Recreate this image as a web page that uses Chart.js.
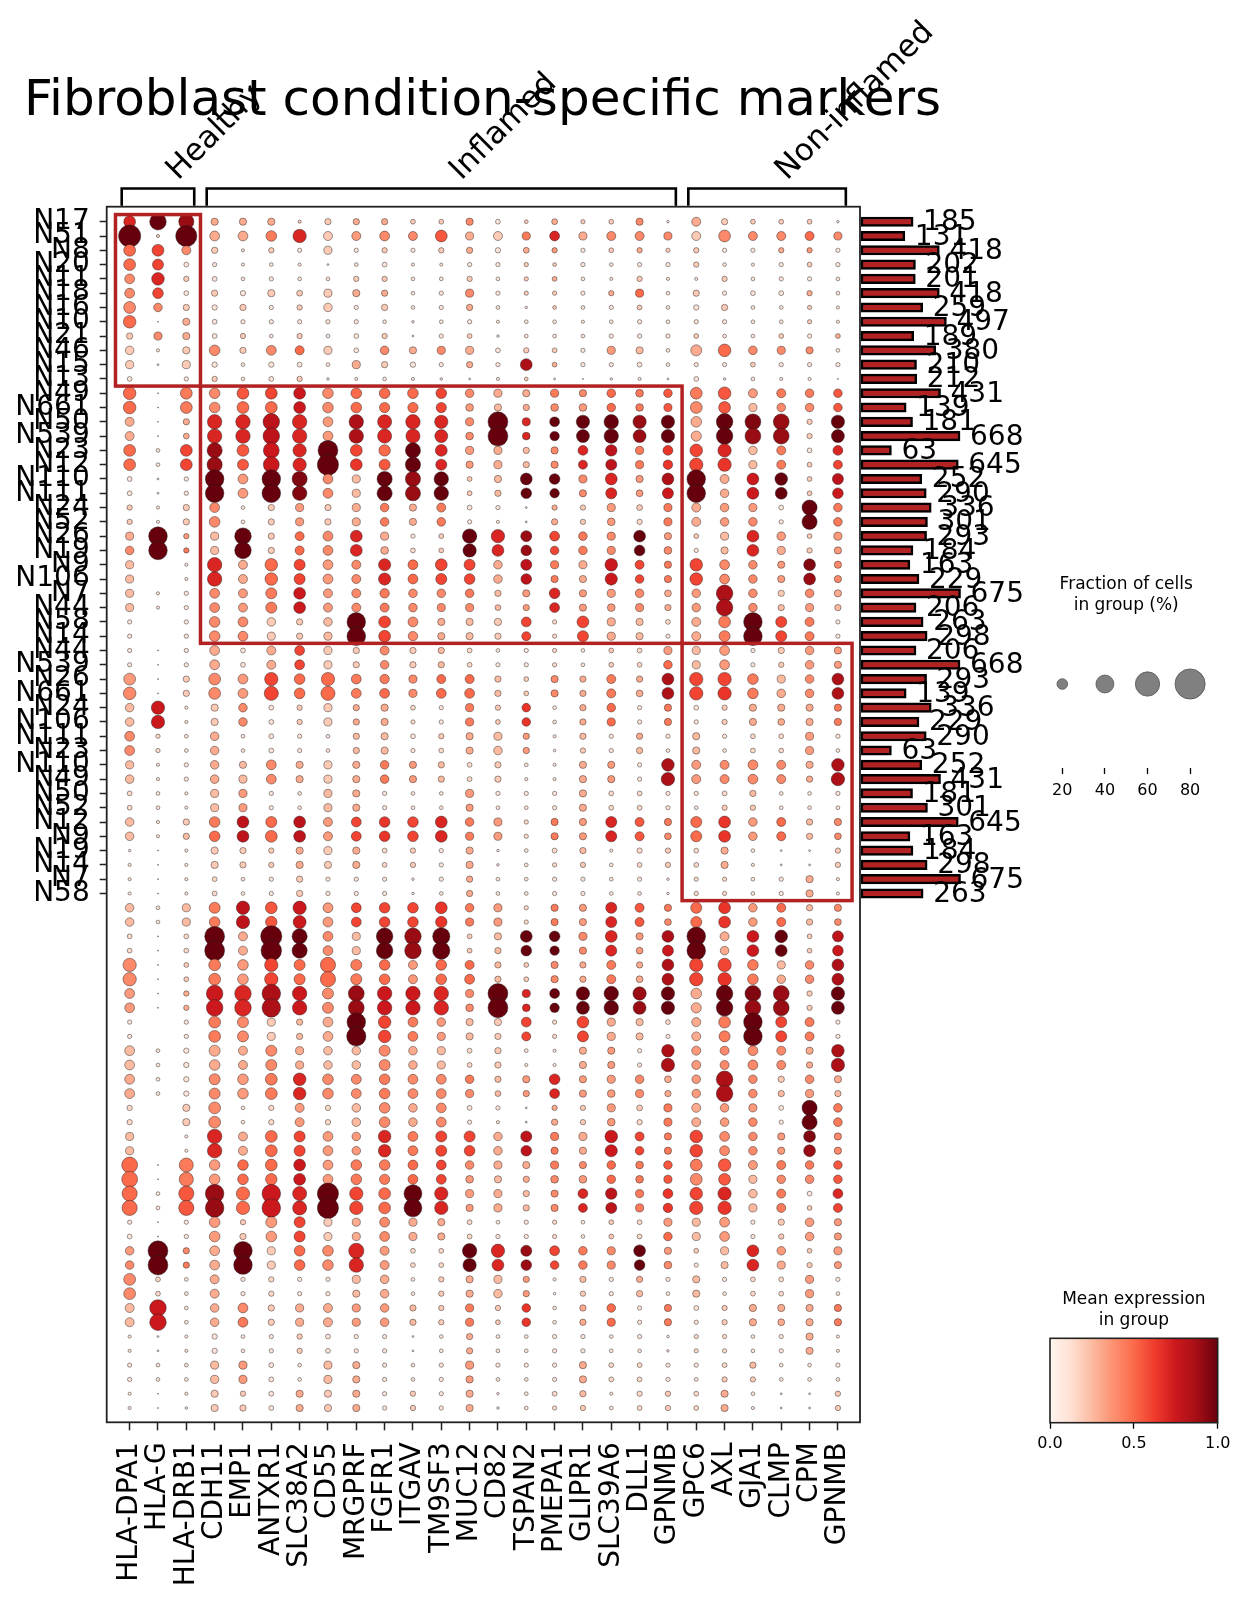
<!DOCTYPE html>
<html>
<head>
<meta charset="utf-8">
<title>Fibroblast condition-specific markers</title>
<script src="https://cdn.jsdelivr.net/npm/chart.js@4.4.1/dist/chart.umd.min.js"></script>
<style>
  html, body { margin: 0; padding: 0; background: #fff; }
  #page { position: relative; width: 1246px; height: 1602px; overflow: hidden; }
  canvas { position: absolute; }
</style>
</head>
<body>
<div id="page">
  <canvas id="dots" width="1246" height="1602" style="left:0;top:0"></canvas>
  <canvas id="totals" width="386" height="1602" style="left:860px;top:0"></canvas>
  <canvas id="sizeLegend" width="236" height="250" style="left:1010px;top:560px"></canvas>
  <canvas id="colorbar" width="246" height="332" style="left:1000px;top:1270px"></canvas>
</div>
<script>
const genes = ["HLA-DPA1", "HLA-G", "HLA-DRB1", "CDH11", "EMP1", "ANTXR1", "SLC38A2", "CD55",
  "MRGPRF", "FGFR1", "ITGAV", "TM9SF3", "MUC12", "CD82", "TSPAN2", "PMEPA1", "GLIPR1",
  "SLC39A6", "DLL1", "GPNMB", "GPC6", "AXL", "GJA1", "CLMP", "CPM", "GPNMB"];

const rowLabels = ["N17", "N51", "N8", "N20", "N11", "N18", "N16", "N10", "N21", "N46", "N15", "N13",
  "N49", "N661", "N50", "N539", "N23", "N12", "N110", "N111", "N24", "N52", "N26", "N19", "N9", "N106",
  "N7", "N44", "N58", "N14", "N44", "N539", "N26", "N661", "N24", "N106", "N111", "N23", "N110", "N49",
  "N50", "N52", "N12", "N9", "N19", "N14", "N7", "N58"];

// number of cells per group (bars on the right)
const cellCounts = [185, 131, 418, 202, 201, 418, 259, 497, 189, 380, 210, 212, 431, 139, 181, 668,
  63, 645, 252, 290, 336, 301, 293, 184, 163, 229, 675, 206, 263, 298, 206, 668, 293, 139, 336, 229,
  290, 63, 252, 431, 181, 301, 645, 163, 184, 298, 675, 263];

// var groups: [label, first gene, last gene]; highlighted blocks: [first gene, last gene, first row, last row]
const geneGroups = [["Healthy", 0, 2], ["Inflamed", 3, 19], ["Non-inflamed", 20, 25]];
const highlightBlocks = [[0, 2, 0, 11], [3, 19, 12, 29], [20, 25, 30, 47]];

const legendPct = [20, 40, 60, 80];
const colorbarTicks = [0, 0.5, 1];

// fraction of cells in group (%), one row per dot row
const fractionPct = [
  [23,36,32,12,12,12,4,10,10,10,7,7,12,7,5,9,6,7,12,3,16,10,7,7,7,3],
  [53,4,50,18,18,20,27,16,16,18,16,23,14,16,14,18,14,16,16,14,16,23,16,16,16,14],
  [23,23,16,10,4,8,6,14,6,8,6,8,10,8,9,8,6,7,8,6,8,6,6,8,8,6],
  [23,21,7,6,4,5,4,2,5,7,4,4,6,6,6,5,6,5,6,6,8,5,4,6,7,6],
  [18,25,8,7,5,6,5,5,8,8,5,5,8,5,6,7,5,4,8,4,4,8,5,6,6,5],
  [18,20,7,10,8,12,9,14,12,10,5,6,14,6,6,6,6,8,14,5,10,6,7,7,8,5],
  [23,15,10,8,10,6,8,15,6,10,5,6,10,5,3,5,5,6,7,5,8,10,5,5,6,4],
  [25,1,12,7,6,6,6,6,6,5,3,5,6,4,5,5,4,5,6,5,6,6,5,5,6,4],
  [10,14,12,7,8,5,8,5,7,8,2,6,7,3,5,5,5,6,6,6,7,5,5,7,6,7],
  [15,4,12,20,10,18,16,14,7,15,12,14,14,7,8,7,6,14,12,5,21,25,15,14,12,5],
  [14,2,14,8,5,8,7,5,14,10,8,6,10,6,23,7,6,6,7,5,6,6,7,6,6,6],
  [7,0,6,8,5,7,8,3,4,5,4,3,2,4,5,2,1,3,4,2,7,3,5,4,4,1],
  [25,1,23,20,23,23,23,20,20,20,20,20,15,14,12,14,12,15,13,15,23,25,16,16,15,15],
  [25,1,23,20,23,23,23,20,20,19,19,19,13,12,10,13,13,15,13,14,23,23,14,15,15,15],
  [16,1,10,30,30,36,30,18,30,29,30,27,14,46,14,18,27,30,27,27,20,36,34,34,8,27],
  [16,1,9,30,30,36,30,18,30,29,29,26,13,46,13,17,26,30,26,27,19,36,34,34,8,26],
  [23,5,23,32,23,34,27,46,23,22,32,23,14,14,10,12,18,22,14,18,25,27,15,16,7,18],
  [23,5,23,32,21,34,27,50,23,21,32,21,12,14,10,12,16,21,14,17,27,27,14,16,7,16],
  [7,2,6,42,18,42,32,18,14,32,32,30,7,12,23,20,14,23,12,23,42,16,23,25,7,21],
  [7,2,6,42,18,42,30,18,14,32,32,30,7,10,20,17,12,21,11,21,42,15,23,23,7,20],
  [8,4,10,18,5,10,14,10,14,15,12,16,7,6,2,8,8,14,9,14,16,15,14,7,32,15],
  [8,4,10,20,5,10,14,10,14,15,12,15,6,4,2,10,8,13,8,14,16,15,15,6,32,15],
  [14,42,8,14,36,10,16,18,23,14,6,7,30,27,21,18,15,14,23,12,7,14,23,15,7,14],
  [15,42,8,14,36,10,16,18,23,13,7,7,27,23,20,15,15,14,20,13,6,12,23,14,8,12],
  [14,0,4,30,16,25,21,18,16,24,18,23,21,15,21,14,14,25,16,12,25,18,15,12,23,12],
  [14,0,4,30,16,25,21,18,16,24,18,21,20,15,20,12,12,24,15,12,25,18,15,12,23,12],
  [14,4,6,18,16,21,23,16,16,17,15,15,15,10,12,20,12,14,15,11,15,36,15,10,15,12],
  [14,4,6,18,16,21,23,16,16,16,15,14,14,9,10,18,12,13,14,10,15,36,15,10,14,10],
  [6,0,6,20,18,15,10,15,42,23,18,12,12,12,18,6,23,14,12,7,16,23,42,21,16,6],
  [6,0,6,20,18,14,10,14,42,23,17,12,12,10,16,6,21,14,12,6,16,21,42,21,16,6],
  [6,1,6,18,7,16,18,14,10,16,10,10,7,5,6,6,5,7,7,14,14,18,6,10,15,12],
  [6,1,6,18,7,16,18,14,10,15,10,10,7,6,6,6,5,7,7,15,14,18,6,8,15,12],
  [23,1,10,23,18,27,20,27,18,17,14,16,16,10,7,12,10,16,10,23,27,27,20,14,15,23],
  [25,1,10,23,18,29,20,29,18,18,14,18,18,10,7,12,10,16,11,23,27,27,20,15,15,23],
  [15,27,4,12,15,7,8,14,10,12,7,6,14,8,15,5,10,15,6,12,7,8,12,12,12,12],
  [15,27,4,12,15,7,8,14,10,12,6,6,14,7,15,5,10,14,6,12,6,8,12,11,12,12],
  [18,6,5,15,5,7,6,5,10,12,7,8,12,14,10,4,10,6,10,6,12,6,7,7,14,6],
  [18,6,5,15,5,7,6,5,10,12,6,7,12,15,10,3,8,6,10,5,12,5,7,7,14,5],
  [14,4,6,15,12,18,12,14,12,15,12,10,7,10,5,4,12,12,6,25,16,16,18,16,12,25],
  [15,4,6,15,14,18,12,14,12,15,12,10,7,10,4,4,12,12,6,27,16,16,18,16,10,27],
  [7,5,4,14,14,6,5,14,12,6,5,5,14,6,6,6,12,7,7,6,6,7,10,5,5,6],
  [7,5,4,14,14,6,5,14,12,6,5,5,12,5,5,6,12,7,7,6,5,8,8,5,5,5],
  [15,4,10,20,23,21,23,16,18,20,20,23,15,14,6,12,12,21,16,12,21,23,15,16,10,12],
  [15,4,10,20,23,23,23,16,18,20,20,23,14,14,6,12,12,21,16,11,21,23,15,16,10,11],
  [3,1,4,12,10,8,12,14,12,7,8,6,12,3,5,7,10,4,8,8,7,12,5,2,2,8],
  [4,1,4,12,10,8,12,12,12,7,8,6,12,3,5,6,8,5,7,8,7,12,4,2,2,8],
  [4,1,4,7,5,6,10,6,6,6,3,6,10,5,5,6,6,5,6,3,6,6,5,6,12,4],
  [4,1,4,7,5,6,10,6,6,6,3,5,10,5,5,6,6,5,5,3,6,6,5,6,12,4],
  [15,5,14,21,27,23,27,18,18,20,20,23,15,14,6,12,12,21,16,12,21,23,15,16,10,12],
  [15,5,14,20,27,22,26,18,18,20,20,22,14,14,6,12,12,21,16,11,21,23,15,16,10,11],
  [7,1,7,46,16,50,32,18,14,36,36,38,7,12,23,20,14,23,12,23,42,16,23,25,7,21],
  [7,1,7,46,16,48,32,18,14,36,36,38,7,10,20,17,12,21,11,21,42,15,23,23,7,20],
  [27,1,7,23,20,27,21,32,21,20,16,20,16,10,7,12,10,16,10,23,27,27,20,14,15,23],
  [27,1,7,23,20,27,21,32,21,20,16,20,18,10,7,12,10,16,11,23,27,27,20,15,15,23],
  [18,1,8,36,36,42,30,21,34,30,30,30,14,46,14,18,27,30,27,27,20,36,34,34,8,27],
  [18,1,8,36,36,42,30,21,34,30,30,30,13,46,13,17,26,30,26,27,19,36,34,34,8,26],
  [6,0,6,23,21,14,10,18,42,25,18,15,12,12,18,6,23,14,12,7,16,23,42,21,16,6],
  [6,0,6,23,21,14,10,18,44,25,18,14,12,10,16,6,21,14,12,6,16,21,42,21,16,6],
  [18,5,8,21,16,21,14,15,15,21,15,14,7,10,5,4,12,12,6,25,16,16,18,16,12,25],
  [18,5,8,20,16,21,14,15,15,21,15,14,7,10,4,4,12,12,6,27,16,16,18,16,10,27],
  [18,5,8,21,20,23,25,20,18,20,18,18,15,10,12,20,12,14,15,11,15,36,15,10,15,12],
  [18,5,8,21,20,23,25,20,18,20,18,18,14,9,10,18,12,13,14,10,15,36,15,10,14,10],
  [8,0,12,23,5,8,16,8,15,20,15,18,7,6,2,8,8,14,9,14,16,15,14,7,32,15],
  [8,0,12,23,5,8,16,8,15,20,15,18,6,4,2,10,8,13,8,14,16,15,15,6,32,15],
  [14,0,4,30,16,23,21,18,15,25,18,21,21,15,21,14,14,25,16,12,25,18,15,12,23,12],
  [14,0,4,30,16,23,21,18,15,25,18,21,20,15,20,12,12,24,15,12,25,18,15,12,23,12],
  [34,1,29,20,20,23,23,18,20,20,18,18,15,14,12,14,12,15,13,15,23,25,16,16,15,15],
  [34,1,29,20,20,22,23,18,20,19,18,18,13,12,10,13,13,15,13,14,23,23,14,15,15,15],
  [32,5,32,42,27,42,29,50,27,23,40,27,14,14,10,12,18,22,14,18,25,27,15,16,7,18],
  [32,5,32,42,27,42,29,50,27,23,40,27,12,14,10,12,16,21,14,17,27,27,14,16,7,16],
  [6,1,6,20,8,21,21,14,14,18,14,12,7,5,6,6,5,7,7,14,14,18,6,10,15,12],
  [7,1,6,20,10,20,21,14,14,18,14,12,7,6,6,6,5,7,7,15,14,18,6,8,15,12],
  [15,46,10,18,42,14,20,20,32,16,7,7,30,27,21,18,15,14,23,12,7,14,23,15,7,14],
  [15,46,10,18,42,14,20,20,30,16,7,7,27,23,20,15,15,14,20,13,6,12,23,14,8,12],
  [23,7,5,16,6,8,6,6,14,15,5,8,12,14,10,4,10,6,10,6,12,6,7,7,14,6],
  [23,7,5,16,6,8,6,6,12,15,5,8,12,15,10,3,8,6,10,5,12,5,7,7,14,5],
  [16,36,5,15,18,10,14,16,14,15,10,8,14,8,15,5,10,15,6,12,7,8,12,12,12,12],
  [16,36,5,15,18,10,14,16,14,15,10,8,14,7,15,5,10,14,6,12,6,8,12,11,12,12],
  [4,2,4,8,5,6,8,7,6,6,2,5,10,5,5,6,6,5,6,3,6,6,5,6,12,4],
  [4,2,4,8,5,6,8,7,6,6,2,5,10,5,5,6,6,5,5,3,6,6,5,6,12,4],
  [6,5,5,14,14,7,5,14,12,6,5,6,14,6,6,6,12,7,7,6,6,7,10,5,5,6],
  [6,5,5,14,14,7,5,14,12,6,5,6,12,5,5,6,12,7,7,6,5,8,8,5,5,5],
  [4,1,4,12,8,7,12,12,12,6,8,6,12,3,5,7,10,4,8,8,7,12,5,2,2,8],
  [4,1,3,12,10,7,12,12,12,6,8,6,12,3,5,6,8,5,7,8,7,12,4,2,2,8],
];

// mean expression in group, in tenths (0 - 10)
const meanExpr = [
  [7,10,9,3,3,3,2,2,3,3,2,2,4,1,2,3,2,2,4,1,3,2,2,2,2,1],
  [10,2,10,3,3,4.5,7,2,3.5,4,4,5.5,3,2,4.5,7,3,4,4,4,2,4,4,4,5,4],
  [5,6,4,2,1,2,1,2,1,2,1,2,3,1,3,3.5,1,2,3,2,2,1,1,3,3.5,1],
  [5,6,1,1,1,1,1,1,1,1,1,1,1,1,2,2,1,1,1,1,2,1,1,1,2,1],
  [4,7,2,1,1,1,1,1,2,2,1,1,2,1,2,3,1,1,2,1,1,2,1,1,1,1],
  [4,6,1,2,1,2,2,2,3,3,1,1,4,1,2,2,1,3,5,1,2,1,1,1,3,1],
  [4,4,2,1,2,1,2,2,1,2,1,1,3,1,1,2,1,1,2,1,1,2,1,1,2,1],
  [5,1,3,1,1,1,1,1,1,1,1,1,1,1,1,1,1,1,1,1,1,1,1,1,2,1],
  [2,4,3,1,2,1,2,1,1,2,1,1,2,1,1,1,1,1,1,1,2,1,1,2,1,3],
  [2,1,2,4,2,4,5,2,1,4,3,4,3,1,2,2,1,3.5,2.5,1,3,5,4,4,4,1],
  [2,1,2,1,1,1,1,1,3,2,1,1,3,1,8.5,3,1,1,1,1,1,1,2,1,1,1],
  [1,0,1,2,1,1,2,1,1,1,1,1,1,1,2,1,1,1,1,1,1,1,1,1,1,1],
  [5,1,4.5,4,5.5,6,7.5,4,5,5,5,6,4,3,3,4.5,4,5,4.5,5.5,4.5,5.5,3.5,4.5,4.5,5.5],
  [5,1,4.5,4,5,5,7.5,4,5,5,5,6,3.5,2.5,3,4,3.5,5,4.5,5.5,4,5.5,2.5,4,4,5.5],
  [3,1,3,7,7,8,7,3.5,8.5,7,7,7,4,10,7,10,10,10,9,10,3,10,9.5,9,2,10],
  [3,1,3,7,7,8,7,3.5,8.5,7,7,7,4,10,7,10,10,10,9,10,3,10,9,9,2,10],
  [5,1,6,9,5.5,7.5,7,10,6,5,10,7,3.5,3,2.5,4,7,8,4.5,6.5,6,7,2.5,4.5,1,7],
  [5,1,6,9,5.5,7.5,7,10,6.5,5.5,10,7,3.5,3,2.5,4,7,8,4.5,6.5,6,6.5,2.5,4.5,2,6],
  [1,1,1,10,3.5,10,9.5,4,2.5,10,9,10,2,2.5,10,10,4,7,3.5,8.5,10,3,7.5,10,2,8],
  [1,1,1,10,3.5,10,9.5,4,2.5,10,9,10,2,2.5,10,10,4,7,3.5,7.5,10,3,7.5,10,2,7.5],
  [2,1,2,4,1,2,3.5,2,3,4.5,3,4.5,1,1,1,3,2,3.5,2,4.5,3,3.5,3.5,1,10,4.5],
  [2,1,2,4,1,2,3.5,2,3,4.5,3,4.5,1,1,1.5,3,2,3.5,1.5,4.5,3,3.5,4,1,10,4.5],
  [3,10,3.5,2.5,10,2,5,4,7,3,1,2,10,7,9,6,4.5,4,10,3.5,2,2.5,7,3.5,2,3.5],
  [4,10,4.5,2.5,10,2,5,4,7,3,1.5,2,10,7,9,6,4.5,4,10,4,1,2.5,7,3,2,3.5],
  [2.5,0,1,7,3,5,6,3.5,4,7,5,6,6,3,8,4.5,3,7.5,6,4.5,6,4,4,3.5,9.5,4],
  [2.5,0,1,7,3,5,6,3.5,4,7,5,6,6,3,8,4.5,3,7.5,6,4.5,6,4,4,3.5,9,4],
  [2.5,1,1,4,3.5,4.5,7.5,3.5,4,4.5,4,4,4.5,2.5,3.5,7,3.5,3.5,4,3,3.5,8.5,4,2,4,3],
  [2.5,1,1,4,3.5,4.5,7.5,3.5,4,4.5,4,4,4,2.5,3.5,7,3.5,3.5,4,3,3.5,8.5,4,2.5,3.5,2.5],
  [1,0,1,4,4,2,2,2.5,10,6,4,3,2.5,2,6,1.5,6,3,2.5,1.5,3,4.5,10,6,4.5,1],
  [1,0,1,4,4,2,2,2.5,10,6,4,3,2.5,2,6,1.5,6,3,2.5,1,3,4.5,10,6,4.5,1],
  [1,1,1,3,1,3,6,2,2,4,2,2.5,1.5,1,1,1.5,1,2,1.5,3.5,2.5,3.5,1,2,3.5,3.5],
  [1,1,1,3,1,3,6,2,2,4,2,2.5,1.5,1,1,1.5,1,2,1.5,5,2.5,3.5,1,2,3.5,3.5],
  [3.5,1,2,4,3.5,6,5,5,4.5,4.5,4,5,5,2.5,2,4,3,4.5,3,8.5,6,6,4.5,2.5,4,8.5],
  [4,1,2,4,3.5,6,5,5,4.5,5,4,5,5,2.5,2,4,3,4.5,3,8.5,6,6.5,4.5,3,4,8.5],
  [2.5,7.5,1,2,4,1,2,2,3,3,1.5,1,4.5,2,6.5,1,3,5,1,4.5,1,2,3,3,3,4.5],
  [2.5,7.5,1,2,4,1,2,2,3,3,1.5,1,4.5,2,6.5,1,3,5,1,4.5,1,2,3,3,3,4.5],
  [4,1.5,1,3,1,1,1,1,2.5,2.5,1,2,3,2.5,3.5,1,2.5,1,3,1,2.5,1,1.5,1.5,3.5,1],
  [4,1.5,1,3,1,1,1,1,2.5,2.5,1,1.5,3,2.5,3.5,1,2,1,2.5,1,2.5,1,1.5,1.5,3.5,1],
  [2.5,1,1,3,2.5,4,3,2,3,4.5,3.5,2.5,1.5,2,1,1,3,3.5,1,8.5,3.5,4,4,4,3,8.5],
  [2.5,1,1,3,2.5,4,3,2,3,4.5,3.5,2.5,1.5,2,1,1,3,3.5,1,8.5,3.5,4,4,4,3,8.5],
  [1.5,1,1,2.5,3.5,1,1,2.5,3,1,1,1,3.5,1,1,1,3,1.5,1.5,1,1,1.5,2.5,1,1,1],
  [1.5,1,1,2.5,3.5,1,1,2.5,3,1,1,1,3.5,1,1,1,3,1.5,1.5,1,1,2,2,1,1,1],
  [2.5,1,2,4.5,8,5,8,3.5,6,6.5,6,7,4.5,3.5,1.5,4.5,3.5,7,5.5,4.5,5,6.5,3.5,5,2.5,4],
  [2.5,1,2.5,5,8,5,8,3.5,6,6.5,6,7,4.5,3.5,1.5,4.5,3.5,7,5.5,4,5,6.5,3.5,5,2.5,4],
  [1,1,1,2,2,2,3,2,3,1.5,2,1,3,1,1,1.5,2.5,1,1.5,2,1.5,3,1,1,1,2],
  [1,1,1,2,2,2,3,2,3,1.5,2,1,3,1,1,1.5,2,1,1.5,2,1.5,3,1,1,1,2],
  [1,1,1,1.5,1,1,2,1,1,1,1,1,3,1,1,1,1,1,1,1,1.5,1.5,1,1,3,1],
  [1,1,1,1.5,1,1,2,1,1,1,1,1,3,1,1,1,1,1,1,1,1.5,1.5,1,1,3,1],
  [2.5,1,2.5,4.5,8,5.5,7.5,3.5,6,6,6,6.5,4.5,3.5,1.5,4.5,3.5,7,5.5,4.5,5,6.5,3.5,5,2.5,4],
  [2.5,1,2.5,4.5,8,5.5,7.5,3.5,6,6,6,6.5,4.5,3.5,1.5,4.5,3.5,7,5.5,4,5,6.5,3.5,5,2.5,4],
  [1.5,1,1.5,10,3,10,10,4,2.5,10,9,10,2,2.5,10,10,4,7,3.5,8.5,10,3,7.5,10,2,8],
  [1.5,1,1.5,10,3,10,10,4,2.5,10,9,10,2,2.5,10,10,4,7,3.5,7.5,10,3,7.5,10,2,7.5],
  [4,1,2,4.5,3.5,6,5,5,4.5,5,3.5,5,5,2.5,2,4,3,4.5,3,8.5,6,6,4.5,2.5,4,8.5],
  [4,1,2,4.5,3.5,6,5,5,4.5,5,3.5,5,5,2.5,2,4,3,4.5,3,8.5,6,6.5,4.5,3,4,8.5],
  [3.5,1,3,7.5,7,8.5,7.5,4,9,7.5,7.5,7,4,10,7,10,10,10,9,10,3,10,9.5,9,2,10],
  [3.5,1,3,7.5,7,8.5,7.5,4,9,7.5,7.5,7,4,10,7,10,10,10,9,10,3,10,9,9,2,10],
  [1,0,1,4.5,4,2,2.5,3,10,6,4.5,3.5,2.5,2,6,1.5,6,3,2.5,1.5,3,4.5,10,6,4.5,1],
  [1,0,1,4.5,4,2,2.5,3,10,6,4.5,3.5,2.5,2,6,1.5,6,3,2.5,1,3,4.5,10,6,4.5,1],
  [2.5,1,1,3,3,4,3,2.5,2.5,4,3,2.5,1.5,2,1,1,3,3.5,1,8.5,3.5,4,4,4,3,8.5],
  [2.5,1,1,3,3,4,3,2.5,2.5,4,3,2.5,1.5,2,1,1,3,3.5,1,8.5,3.5,4,4,4,3,8.5],
  [3,1,1,4,3.5,4.5,7,4,4,4.5,4,4,4.5,2.5,3.5,7,3.5,3.5,4,3,3.5,8.5,4,2,4,3],
  [3,1,1,4,3.5,4.5,7,4,4,4.5,4,4,4,2.5,3.5,7,3.5,3.5,4,3,3.5,8.5,4,2.5,3.5,2.5],
  [1.5,0,2,4,1,1.5,3.5,1.5,2.5,4,3,4,1,1,1,3,2,3.5,2,4.5,3,3.5,3.5,1,10,4.5],
  [1.5,0,2,4,1,1.5,3.5,1.5,2.5,4,3,4,1,1,1.5,3,2,3.5,1.5,4.5,3,3.5,4,1,10,4.5],
  [2.5,0,1,7,3,5,6,3.5,3.5,7,4.5,6,6,3,8,4.5,3,7.5,6,4.5,6,4,4,3.5,9.5,4],
  [2.5,0,1,7,3,5,6,3.5,3.5,7,4.5,6,6,3,8,4.5,3,7.5,6,4.5,6,4,4,3.5,9,4],
  [5,1,4.5,3.5,5,5,7.5,3.5,4.5,4.5,5,6,4,3,3,4.5,4,5,4.5,5.5,4.5,5.5,3.5,4.5,4.5,5.5],
  [5,1,4.5,3.5,5,5,7.5,3.5,4.5,4.5,5,6,3.5,2.5,3,4,3.5,5,4.5,5.5,4,5.5,2.5,4,4,5.5],
  [5,1,5.5,9,5,7.5,7,10,6,5,10,7,3.5,3,2.5,4,7,8,4.5,6.5,6,7,2.5,4.5,1,7],
  [5,1,5.5,9,5,7.5,7,10,6,5,10,7,3.5,3,2.5,4,7,8,4.5,6.5,6,6.5,2.5,4.5,2,6],
  [1,1,1,3.5,2,3.5,6,2,3,4,3,3,1.5,1,1,1.5,1,2,1.5,3.5,2.5,3.5,1,2,3.5,3.5],
  [1,1,1,3.5,2,3.5,6,2,3,4,3,3,1.5,1,1,1.5,1,2,1.5,5,2.5,3.5,1,2,3.5,3.5],
  [3.5,10,4,3,10,2,5,4,7,3.5,1.5,1.5,10,7,9,6,4.5,4,10,3.5,2,2.5,7,3.5,2,3.5],
  [4,10,4.5,3,10,2,5,4,7,3.5,1.5,1.5,10,7,9,6,4.5,4,10,4,1,2.5,7,3,2,3.5],
  [4,1.5,1,3,1,1.5,1,1,2.5,3,1,2,3,2.5,3.5,1,2.5,1,3,1,2.5,1,1.5,1.5,3.5,1],
  [4,1.5,1,3,1,1.5,1,1,2.5,3,1,2,3,2.5,3.5,1,2,1,2.5,1,2.5,1,1.5,1.5,3.5,1],
  [2.5,7.5,1,3,4,2,3,3,3.5,3.5,2.5,2,4.5,2,6.5,1,3,5,1,4.5,1,2,3,3,3,4.5],
  [2.5,7.5,1,3,4.5,2,3,3,3.5,3.5,2.5,2,4.5,2,6.5,1,3,5,1,4.5,1,2,3,3,3,4.5],
  [1,1,1,1,1,1,2,1,1,1,1,1,3,1,1,1,1,1,1,1,1.5,1.5,1,1,3,1],
  [1,1,1,1,1,1,2,1,1,1,1,1,3,1,1,1,1,1,1,1,1.5,1.5,1,1,3,1],
  [1,1,1,2.5,3.5,1,1,2.5,3,1,1,1,3.5,1,1,1,3,1.5,1.5,1,1,1.5,2.5,1,1,1],
  [1,1,1,2.5,3.5,1,1,2.5,3,1,1,1,3.5,1,1,1,3,1.5,1.5,1,1,2,2,1,1,1],
  [1,1,1,2,2,1,3,2,3,1,2,1,3,1,1,1.5,2.5,1,1.5,2,1.5,3,1,1,1,2],
  [1,1,1,2,2,1,3,2,3,1,2,1,3,1,1,1.5,2,1,1.5,2,1.5,3,1,1,1,2],
];

// matplotlib "Reds"
const redsStops = ["#fff5f0", "#fee0d2", "#fcbba1", "#fc9272", "#fb6a4a", "#ef3b2c", "#cb181d", "#a50f15", "#67000d"];

const FONT = "'DejaVu Sans', 'Liberation Sans', sans-serif";
Chart.defaults.font.family = FONT;
Chart.defaults.color = "#000";

const hexToRgb = (h) => [1, 3, 5].map((i) => parseInt(h.slice(i, i + 2), 16));

const reds = (t) => {
  const p = Math.max(0, Math.min(1, t)) * (redsStops.length - 1);
  const i = Math.min(redsStops.length - 2, Math.floor(p));
  const f = p - i;
  const a = hexToRgb(redsStops[i]);
  const b = hexToRgb(redsStops[i + 1]);
  const c = a.map((v, k) => Math.round(v + (b[k] - v) * f));
  return `rgb(${c[0]}, ${c[1]}, ${c[2]})`;
};

// dot area grows with fraction^1.5, so radius with fraction^0.75
const dotRadius = (pct) => 17.8 * Math.pow(pct / 100, 0.75);

const cellPoints = [];
const cellColors = [];
fractionPct.forEach((row, r) => {
  row.forEach((pct, c) => {
    if (pct <= 0) return;
    cellPoints.push({ x: c, y: r, r: dotRadius(pct) });
    cellColors.push(reds(meanExpr[r][c] / 10));
  });
});

const tickGrid = {
  display: true,
  drawOnChartArea: false,
  drawTicks: true,
  tickWidth: 1.5,
  tickColor: "#222",
  color: "#222",
};

const dotDecor = {
  id: "dotDecor",
  afterDatasetsDraw(chart) {
    const { ctx, scales } = chart;
    const x = scales.x;
    const y = scales.y;
    ctx.save();
    ctx.strokeStyle = "#b22222";
    ctx.lineWidth = 3.5;
    highlightBlocks.forEach(([c0, c1, r0, r1]) => {
      const left = x.getPixelForValue(c0 - 0.5);
      const right = x.getPixelForValue(c1 + 0.5);
      const top = y.getPixelForValue(r0 - 0.5);
      const bottom = y.getPixelForValue(r1 + 0.5);
      ctx.strokeRect(left, top, right - left, bottom - top);
    });
    ctx.restore();
  },
  afterDraw(chart) {
    const { ctx, chartArea, scales } = chart;
    const x = scales.x;
    ctx.save();
    ctx.strokeStyle = "#222";
    ctx.lineWidth = 1.8;
    ctx.strokeRect(chartArea.left, chartArea.top, chartArea.right - chartArea.left, chartArea.bottom - chartArea.top);

    // brackets over the gene groups
    ctx.strokeStyle = "#000";
    ctx.lineWidth = 2.6;
    const bracketTop = 188.5;
    geneGroups.forEach(([label, c0, c1]) => {
      const left = x.getPixelForValue(c0 - 0.28);
      const right = x.getPixelForValue(c1 + 0.28);
      ctx.beginPath();
      ctx.moveTo(left, chartArea.top - 1);
      ctx.lineTo(left, bracketTop);
      ctx.lineTo(right, bracketTop);
      ctx.lineTo(right, chartArea.top - 1);
      ctx.stroke();

      const center = x.getPixelForValue((c0 + c1) / 2);
      ctx.save();
      ctx.translate(center + 20, 181);
      ctx.rotate(-Math.PI / 4);
      ctx.fillStyle = "#000";
      ctx.font = `31px ${FONT}`;
      ctx.textAlign = "left";
      ctx.textBaseline = "alphabetic";
      ctx.fillText(label, 0, 0);
      ctx.restore();
    });

    ctx.fillStyle = "#000";
    ctx.font = `50px ${FONT}`;
    ctx.textAlign = "left";
    ctx.textBaseline = "alphabetic";
    ctx.fillText("Fibroblast condition-specific markers", 24, 115);
    ctx.restore();
  },
};

new Chart(document.getElementById("dots"), {
  type: "bubble",
  data: {
    datasets: [
      {
        data: cellPoints,
        backgroundColor: cellColors,
        borderColor: "rgba(30, 30, 30, 0.65)",
        borderWidth: 0.7,
        hoverRadius: 0,
      },
    ],
  },
  options: {
    responsive: false,
    animation: false,
    events: [],
    layout: { padding: { left: 0, top: 206.7, right: 386, bottom: 0 } },
    scales: {
      x: {
        type: "linear",
        min: -0.81,
        max: 25.78,
        afterBuildTicks: (scale) => {
          scale.ticks = genes.map((g, i) => ({ value: i }));
        },
        afterFit: (scale) => {
          scale.height = 179.7;
        },
        ticks: {
          autoSkip: false,
          minRotation: 90,
          maxRotation: 90,
          padding: 12,
          font: { size: 28 },
          color: "#000",
          callback: (value) => genes[value],
        },
        grid: { ...tickGrid, tickLength: 8 },
        border: { display: false },
      },
      y: {
        type: "linear",
        reverse: true,
        min: -1.05,
        max: 84,
        afterBuildTicks: (scale) => {
          scale.ticks = rowLabels.map((l, i) => ({ value: i }));
        },
        afterFit: (scale) => {
          scale.width = 106.7;
        },
        ticks: {
          autoSkip: false,
          padding: 10,
          font: { size: 28 },
          color: "#000",
          callback: (value) => rowLabels[value],
        },
        grid: { ...tickGrid, tickLength: 7 },
        border: { display: false },
      },
    },
    plugins: {
      legend: { display: false },
      tooltip: { enabled: false },
    },
  },
  plugins: [dotDecor],
});

const countLabels = {
  id: "countLabels",
  afterDatasetsDraw(chart) {
    const { ctx } = chart;
    const meta = chart.getDatasetMeta(0);
    ctx.save();
    ctx.fillStyle = "#000";
    ctx.font = `28px ${FONT}`;
    ctx.textAlign = "left";
    ctx.textBaseline = "alphabetic";
    meta.data.forEach((bar, i) => {
      ctx.fillText(String(cellCounts[i]), bar.x + 10, bar.y + 8.5);
    });
    ctx.restore();
  },
};

// bar lengths follow the square root of the cell count
new Chart(document.getElementById("totals"), {
  type: "bar",
  data: {
    datasets: [
      {
        data: cellCounts.map((n, i) => ({ x: Math.sqrt(n), y: i })),
        backgroundColor: "#b22222",
        borderColor: "#000",
        borderWidth: 2.5,
        borderSkipped: false,
        barThickness: 9.5,
      },
    ],
  },
  options: {
    indexAxis: "y",
    responsive: false,
    animation: false,
    events: [],
    layout: { padding: { left: 1, right: 185, top: 206.7, bottom: 179.7 } },
    scales: {
      x: { type: "linear", display: false, min: 0, max: 52.2 },
      y: { type: "linear", display: false, reverse: true, min: -1.05, max: 84, offset: false },
    },
    plugins: {
      legend: { display: false },
      tooltip: { enabled: false },
    },
  },
  plugins: [countLabels],
});

new Chart(document.getElementById("sizeLegend"), {
  type: "bubble",
  data: {
    datasets: [
      {
        data: legendPct.map((p) => ({ x: p, y: 0, r: dotRadius(p) })),
        backgroundColor: "#808080",
        borderColor: "#555",
        borderWidth: 0.8,
      },
    ],
  },
  options: {
    responsive: false,
    animation: false,
    events: [],
    layout: { padding: { left: 20.35, right: 23.95, top: 0, bottom: 0 } },
    scales: {
      x: {
        type: "linear",
        min: 5,
        max: 95,
        afterBuildTicks: (scale) => {
          scale.ticks = legendPct.map((v) => ({ value: v }));
        },
        afterFit: (scale) => {
          scale.height = 42;
        },
        ticks: { font: { size: 16 }, padding: 7, color: "#000" },
        grid: { display: true, drawOnChartArea: false, tickLength: 6, tickWidth: 1.3, tickColor: "#000" },
        border: { display: false },
      },
      y: { type: "linear", display: false, min: -2, max: 1 },
    },
    plugins: {
      legend: { display: false },
      tooltip: { enabled: false },
      title: {
        display: true,
        text: ["Fraction of cells", "in group (%)"],
        font: { size: 17, weight: "normal" },
        color: "#000",
        padding: { top: 14.8, bottom: 26.4 },
      },
    },
  },
});

const colorbarFrame = {
  id: "colorbarFrame",
  afterDatasetsDraw(chart) {
    const { ctx, chartArea } = chart;
    ctx.save();
    ctx.strokeStyle = "#222";
    ctx.lineWidth = 1.6;
    ctx.strokeRect(chartArea.left, chartArea.top, chartArea.right - chartArea.left, chartArea.bottom - chartArea.top);
    ctx.restore();
  },
};

new Chart(document.getElementById("colorbar"), {
  type: "bar",
  data: {
    labels: [""],
    datasets: [
      {
        data: [1],
        borderWidth: 0,
        barPercentage: 1,
        categoryPercentage: 1,
        backgroundColor: (context) => {
          const area = context.chart.chartArea;
          if (!area) return redsStops[4];
          const g = context.chart.ctx.createLinearGradient(area.left, 0, area.right, 0);
          for (let i = 0; i <= 100; i++) g.addColorStop(i / 100, reds(i / 100));
          return g;
        },
      },
    ],
  },
  options: {
    indexAxis: "y",
    responsive: false,
    animation: false,
    events: [],
    layout: { padding: { left: 50, right: 28.3, top: 0, bottom: 0 } },
    scales: {
      x: {
        type: "linear",
        min: 0,
        max: 1,
        afterBuildTicks: (scale) => {
          scale.ticks = colorbarTicks.map((v) => ({ value: v }));
        },
        afterFit: (scale) => {
          scale.height = 179.3;
        },
        ticks: { font: { size: 16 }, padding: 6, color: "#000", callback: (v) => Number(v).toFixed(1) },
        grid: { display: true, drawOnChartArea: false, tickLength: 6, tickWidth: 1.3, tickColor: "#000" },
        border: { display: false },
      },
      y: { display: false },
    },
    plugins: {
      legend: { display: false },
      tooltip: { enabled: false },
      title: {
        display: true,
        text: ["Mean expression", "in group"],
        font: { size: 17, weight: "normal" },
        color: "#000",
        padding: { top: 19.8, bottom: 7.7 },
      },
    },
  },
  plugins: [colorbarFrame],
});
</script>
</body>
</html>
